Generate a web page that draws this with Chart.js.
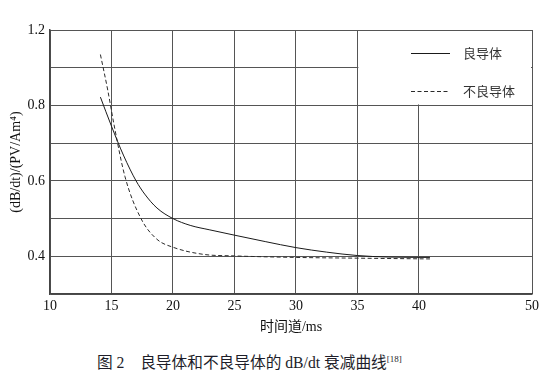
<!DOCTYPE html>
<html>
<head>
<meta charset="utf-8">
<script src="https://cdn.jsdelivr.net/npm/chart.js@4/dist/chart.umd.min.js"></script>
<style>
  html, body { margin: 0; padding: 0; background: #fff; }
  #wrap { position: relative; width: 551px; height: 379px; }
  #box  { position: absolute; left: 0; top: 0; width: 551px; height: 340px; }
  #caption {
    position: absolute; left: 97px; top: 350px;
    font: 15.7px "Liberation Serif", "Noto Sans CJK SC", serif;
    color: #1e1e2a; white-space: nowrap;
  }
  #caption sup { font-size: 9px; }
</style>
</head>
<body>
<div id="wrap">
  <div id="box"><canvas id="chart"></canvas></div>
  <div id="caption">图 2　良导体和不良导体的 dB/dt 衰减曲线<sup>[18]</sup></div>
</div>

<script>
// ── Data ─────────────────────────────────────────────────────
const seriesNames = ['良导体', '不良导体'];

// 良导体 (solid)
const goodX = [14.1, 15.0, 16.0, 17.0, 17.7, 18.7, 20.0, 21.4, 23.0, 25.0, 27.5, 30.0, 32.5, 35.0, 37.5, 40.9];
const goodY = [0.822, 0.745, 0.666, 0.600, 0.565, 0.528, 0.500, 0.482, 0.470, 0.456, 0.439, 0.423, 0.411, 0.402, 0.398, 0.397];

// 不良导体 (dashed)
const poorX = [14.1, 14.7, 15.2, 16.1, 17.4, 18.7, 20.0, 22.5, 25.0, 30.0, 35.0, 40.9];
const poorY = [0.935, 0.840, 0.750, 0.611, 0.500, 0.445, 0.424, 0.405, 0.401, 0.397, 0.395, 0.393];

// axis ticks as printed in the figure
const xTickValues = [10, 15, 20, 25, 30, 35, 40, 49.2];
const xTickLabels = ['10', '15', '20', '25', '30', '35', '40', '50'];
const yTickValues = [0.3, 0.4, 0.5, 0.6, 0.7, 0.8, 0.9, 1.0];
const yTickLabels = ['', '0.4', '', '0.6', '', '0.8', '', '1.2'];

const toPoints = (xs, ys) => xs.map((x, i) => ({ x, y: ys[i] }));

// ── Legend box inside the plot (top right cell) ──────────────
const insideLegend = {
  id: 'insideLegend',
  beforeDatasetsDraw(chart) {
    const { ctx, scales: { x, y } } = chart;
    const l = x.getPixelForValue(35) + 1;
    const r = x.getPixelForValue(49.2) - 1;
    const t = y.getPixelForValue(1.0) + 1;
    const b = y.getPixelForValue(0.8) - 1;
    ctx.save();
    ctx.fillStyle = '#fff';
    ctx.fillRect(l, t, r - l, b - t);
    ctx.restore();
  },
  afterDatasetsDraw(chart) {
    const { ctx, chartArea } = chart;
    const x0 = chartArea.right - 121;
    const rows = [chartArea.top + 23, chartArea.top + 61];
    ctx.save();
    chart.data.datasets.forEach((ds, i) => {
      ctx.strokeStyle = ds.borderColor;
      ctx.lineWidth = 1;
      ctx.setLineDash(ds.borderDash || []);
      ctx.beginPath();
      ctx.moveTo(x0, rows[i] + 0.5);
      ctx.lineTo(x0 + 39, rows[i] + 0.5);
      ctx.stroke();
      ctx.setLineDash([]);
      ctx.fillStyle = '#333';
      ctx.font = '13px "Noto Sans CJK SC"';
      ctx.textBaseline = 'middle';
      ctx.fillText(ds.label, x0 + 52, rows[i]);
    });
    ctx.restore();
  }
};

// ── Chart ────────────────────────────────────────────────────
const serif = '"Liberation Serif", "Times New Roman", serif';

new Chart(document.getElementById('chart'), {
  type: 'line',
  data: {
    datasets: [
      {
        label: seriesNames[0],
        data: toPoints(goodX, goodY),
        borderColor: '#1a1a1a',
        borderWidth: 1,
        pointRadius: 0,
        cubicInterpolationMode: 'monotone',
        fill: false,
      },
      {
        label: seriesNames[1],
        data: toPoints(poorX, poorY),
        borderColor: '#2a2a2a',
        borderWidth: 1,
        borderDash: [4, 2.5],
        pointRadius: 0,
        cubicInterpolationMode: 'monotone',
        fill: false,
      }
    ]
  },
  options: {
    responsive: true,
    maintainAspectRatio: false,
    animation: false,
    layout: { padding: { top: 30, right: 19, left: 0, bottom: 0 } },
    plugins: { legend: { display: false }, tooltip: { enabled: false } },
    scales: {
      x: {
        type: 'linear',
        min: 10,
        max: 49.2,
        afterBuildTicks: s => { s.ticks = xTickValues.map(v => ({ value: v })); },
        afterFit: s => { s.height = 46; },
        ticks: {
          autoSkip: false,
          maxRotation: 0,
          padding: 4,
          color: '#111',
          font: { family: serif, size: 14 },
          callback: (v, i) => xTickLabels[i],
        },
        grid: { color: '#555', lineWidth: 1, drawTicks: false },
        border: { color: '#444', width: 1.5 },
        title: {
          display: true,
          text: '时间道/ms',
          color: '#111',
          font: { family: '"Liberation Serif", "Noto Sans CJK SC"', size: 14 },
          padding: { top: 0, bottom: 4 },
        },
      },
      y: {
        type: 'linear',
        min: 0.3,
        max: 1.0,
        afterBuildTicks: s => { s.ticks = yTickValues.map(v => ({ value: v })); },
        afterFit: s => { s.width = 50; },
        ticks: {
          autoSkip: false,
          padding: 5,
          color: '#111',
          font: { family: serif, size: 14 },
          callback: (v, i) => yTickLabels[i],
        },
        grid: { color: '#555', lineWidth: 1, drawTicks: false },
        border: { color: '#444', width: 1.5 },
        title: {
          display: true,
          text: '(dB/dt)/(PV/Am⁴)',
          color: '#111',
          font: { family: serif, size: 14 },
          padding: { top: 8, bottom: 0 },
        },
      }
    }
  },
  plugins: [insideLegend]
});
</script>
</body>
</html>
